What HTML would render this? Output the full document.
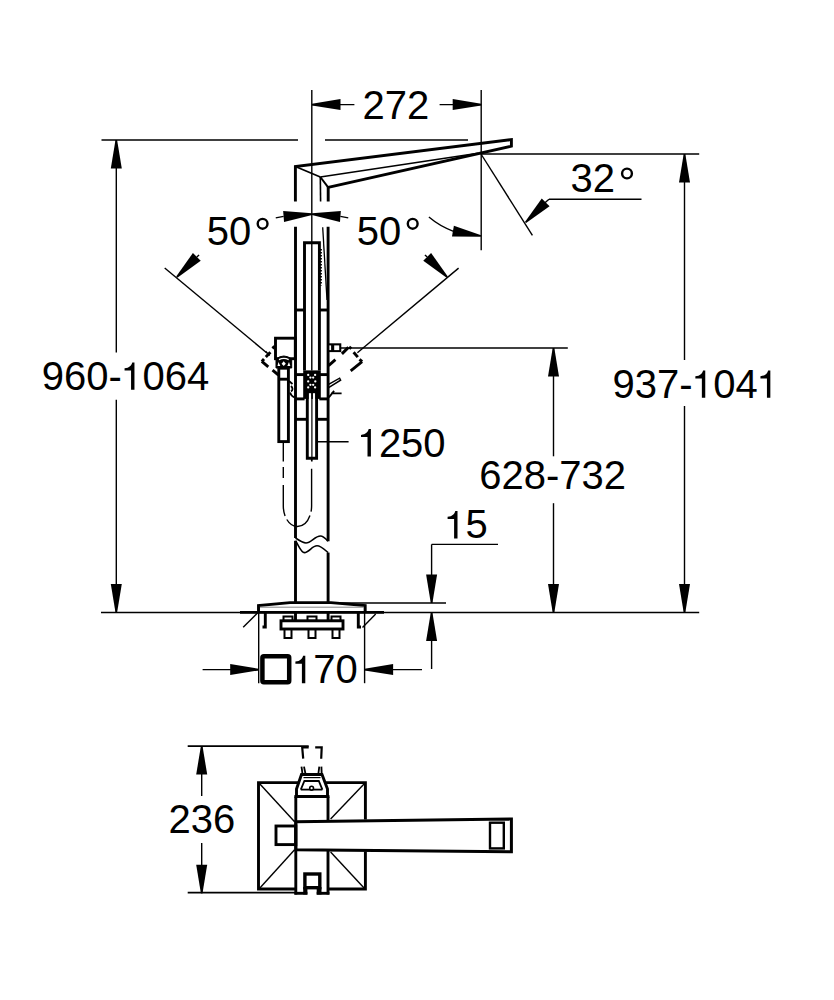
<!DOCTYPE html>
<html><head><meta charset="utf-8"><style>
html,body{margin:0;padding:0;background:#fff;}
svg{display:block;}
text{font-family:"Liberation Sans",sans-serif;fill:#000;stroke:none;}
</style></head><body>
<svg width="834" height="1000" viewBox="0 0 834 1000" stroke="#000" stroke-linecap="butt" stroke-linejoin="miter">
<line x1="311.80" y1="90.00" x2="311.80" y2="242.70" stroke-width="1.4" />
<line x1="481.20" y1="90.00" x2="481.20" y2="250.30" stroke-width="1.4" />
<line x1="312.00" y1="104.60" x2="354.40" y2="104.60" stroke-width="1.4" />
<polygon points="312.00,103.80 340.50,99.10 340.50,110.10 312.00,105.40" fill="#000" stroke="none"/>
<line x1="439.60" y1="104.60" x2="481.20" y2="104.60" stroke-width="1.4" />
<polygon points="481.20,105.40 452.70,110.10 452.70,99.10 481.20,103.80" fill="#000" stroke="none"/>
<text x="362.60" y="118.70" font-size="40">272</text>
<line x1="101.50" y1="140.00" x2="298.00" y2="140.00" stroke-width="1.4" />
<line x1="325.00" y1="140.00" x2="468.00" y2="140.00" stroke-width="1.4" />
<line x1="116.30" y1="140.00" x2="116.30" y2="352.50" stroke-width="1.4" />
<line x1="116.30" y1="399.70" x2="116.30" y2="612.50" stroke-width="1.4" />
<polygon points="117.10,140.00 121.80,168.50 110.80,168.50 115.50,140.00" fill="#000" stroke="none"/>
<polygon points="115.50,612.50 110.80,584.00 121.80,584.00 117.10,612.50" fill="#000" stroke="none"/>
<text x="41.80" y="389.80" font-size="40">960-</text>
<path d="M134.46,389.80 L134.46,362.40 L132.26,362.40 C131.66,365.00 129.36,367.90 124.56,368.20 L124.56,370.40 L131.06,370.40 L131.06,389.80 Z" fill="#000" stroke="none"/>
<text x="142.44" y="389.80" font-size="40">064</text>
<line x1="101.00" y1="612.50" x2="699.20" y2="612.50" stroke-width="1.5" />
<line x1="240.00" y1="612.40" x2="384.00" y2="612.40" stroke-width="2.6" />
<line x1="481.00" y1="154.00" x2="699.20" y2="154.00" stroke-width="1.4" />
<line x1="684.50" y1="154.00" x2="684.50" y2="360.00" stroke-width="1.4" />
<line x1="684.50" y1="406.00" x2="684.50" y2="612.50" stroke-width="1.4" />
<polygon points="685.30,154.00 690.00,182.50 679.00,182.50 683.70,154.00" fill="#000" stroke="none"/>
<polygon points="683.70,612.50 679.00,584.00 690.00,584.00 685.30,612.50" fill="#000" stroke="none"/>
<text x="612.60" y="397.80" font-size="40">937-</text>
<path d="M705.26,397.80 L705.26,370.40 L703.06,370.40 C702.46,373.00 700.16,375.90 695.36,376.20 L695.36,378.40 L701.86,378.40 L701.86,397.80 Z" fill="#000" stroke="none"/>
<text x="713.24" y="397.80" font-size="40">04</text>
<path d="M770.34,397.80 L770.34,370.40 L768.14,370.40 C767.54,373.00 765.24,375.90 760.44,376.20 L760.44,378.40 L766.94,378.40 L766.94,397.80 Z" fill="#000" stroke="none"/>
<line x1="341.00" y1="348.00" x2="567.80" y2="348.00" stroke-width="1.4" />
<line x1="553.50" y1="348.00" x2="553.50" y2="456.30" stroke-width="1.4" />
<line x1="553.50" y1="503.20" x2="553.50" y2="612.50" stroke-width="1.4" />
<polygon points="554.30,348.00 559.00,376.50 548.00,376.50 552.70,348.00" fill="#000" stroke="none"/>
<polygon points="552.70,612.50 548.00,584.00 559.00,584.00 554.30,612.50" fill="#000" stroke="none"/>
<text x="479.20" y="488.90" font-size="40">628-732</text>
<line x1="331.00" y1="603.00" x2="446.00" y2="603.00" stroke-width="1.4" />
<line x1="431.60" y1="544.40" x2="498.00" y2="544.40" stroke-width="1.4" />
<line x1="431.60" y1="544.40" x2="431.60" y2="603.00" stroke-width="1.4" />
<line x1="431.60" y1="612.50" x2="431.60" y2="669.00" stroke-width="1.4" />
<polygon points="430.80,603.00 426.10,574.50 437.10,574.50 432.40,603.00" fill="#000" stroke="none"/>
<polygon points="432.40,612.50 437.10,641.00 426.10,641.00 430.80,612.50" fill="#000" stroke="none"/>
<path d="M457.50,538.40 L457.50,511.00 L455.30,511.00 C454.70,513.60 452.40,516.50 447.60,516.80 L447.60,519.00 L454.10,519.00 L454.10,538.40 Z" fill="#000" stroke="none"/>
<text x="465.49" y="538.40" font-size="40">5</text>
<line x1="258.70" y1="605.00" x2="258.70" y2="683.20" stroke-width="1.4" />
<line x1="364.60" y1="605.00" x2="364.60" y2="683.20" stroke-width="1.4" />
<line x1="202.60" y1="669.60" x2="258.70" y2="669.60" stroke-width="1.4" />
<polygon points="258.70,670.40 230.20,675.10 230.20,664.10 258.70,668.80" fill="#000" stroke="none"/>
<line x1="364.60" y1="669.60" x2="422.00" y2="669.60" stroke-width="1.4" />
<polygon points="364.60,668.80 393.10,664.10 393.10,675.10 364.60,670.40" fill="#000" stroke="none"/>
<rect x="262.4" y="656.3" width="26.8" height="26" rx="1.5" stroke-width="4.5" fill="none"/>
<path d="M305.30,683.20 L305.30,655.80 L303.10,655.80 C302.50,658.40 300.20,661.30 295.40,661.60 L295.40,663.80 L301.90,663.80 L301.90,683.20 Z" fill="#000" stroke="none"/>
<text x="313.29" y="683.20" font-size="40">70</text>
<line x1="481.00" y1="154.00" x2="532.40" y2="235.40" stroke-width="1.4" />
<line x1="549.00" y1="199.20" x2="641.50" y2="199.20" stroke-width="1.4" />
<line x1="549.00" y1="199.20" x2="540.00" y2="207.00" stroke-width="1.4" />
<polygon points="524.93,221.93 541.76,198.46 549.54,206.24 526.07,223.07" fill="#000" stroke="none"/>
<text x="570.50" y="192.30" font-size="40">32</text>
<circle cx="627" cy="173.5" r="4.9" stroke-width="2.4" fill="none"/>
<path d="M428.9,217 A82,82 0 0 0 453.5,231.3" stroke-width="1.4" fill="none" />
<polygon points="480.86,236.79 451.98,236.49 453.88,225.65 481.14,235.21" fill="#000" stroke="none"/>
<line x1="164.70" y1="268.00" x2="266.90" y2="353.00" stroke-width="1.4" />
<line x1="458.60" y1="268.10" x2="357.40" y2="352.70" stroke-width="1.4" />
<polygon points="312.06,214.90 284.04,221.88 283.15,210.92 311.94,213.30" fill="#000" stroke="none"/>
<path d="M283.62,216.40 A176.5,176.5 0 0 0 275.76,217.86" stroke-width="1.4" fill="none" />
<polygon points="312.06,213.30 340.85,210.92 339.96,221.88 311.94,214.90" fill="#000" stroke="none"/>
<path d="M340.38,216.40 A176.5,176.5 0 0 1 348.24,217.86" stroke-width="1.4" fill="none" />
<polygon points="176.22,276.59 192.90,253.00 200.73,260.73 177.36,277.71" fill="#000" stroke="none"/>
<path d="M196.79,256.89 A176.5,176.5 0 0 1 199.08,254.95" stroke-width="1.4" fill="none" />
<polygon points="446.64,277.71 423.27,260.73 431.10,253.00 447.78,276.59" fill="#000" stroke="none"/>
<path d="M427.21,256.89 A176.5,176.5 0 0 0 424.92,254.95" stroke-width="1.4" fill="none" />
<text x="206.70" y="245.00" font-size="40">50</text>
<circle cx="262.6" cy="223.8" r="4.9" stroke-width="2.4" fill="none"/>
<text x="356.70" y="245.00" font-size="40">50</text>
<circle cx="412.7" cy="223.8" r="4.9" stroke-width="2.4" fill="none"/>
<polyline points="295.40,201.40 295.40,166.50 511.40,139.60 511.40,146.20 328.20,187.40 328.20,201.40" stroke-width="2.9" fill="none"/>
<line x1="295.40" y1="166.50" x2="320.30" y2="177.00" stroke-width="1.8" />
<line x1="320.30" y1="177.00" x2="328.20" y2="187.40" stroke-width="2" />
<line x1="320.30" y1="177.00" x2="478.00" y2="153.20" stroke-width="1.6" />
<line x1="320.30" y1="177.00" x2="320.60" y2="201.40" stroke-width="1.6" />
<line x1="295.50" y1="226.70" x2="295.50" y2="538.00" stroke-width="2.9" />
<line x1="295.50" y1="540.80" x2="295.50" y2="602.20" stroke-width="2.9" />
<line x1="328.10" y1="226.70" x2="328.10" y2="541.20" stroke-width="2.9" />
<line x1="328.10" y1="552.60" x2="328.10" y2="602.20" stroke-width="2.9" />
<line x1="322.70" y1="227.20" x2="327.00" y2="300.00" stroke-width="1.3" />
<polyline points="304.50,370.60 304.50,242.70 319.40,242.70 319.40,370.60" stroke-width="2.9" fill="none"/>
<line x1="311.80" y1="242.70" x2="311.80" y2="370.60" stroke-width="1.4" />
<line x1="320.90" y1="249.00" x2="320.90" y2="285.50" stroke-width="2.0" stroke-dasharray="1.6,1.4"/>
<rect x="303.20" y="370.40" width="17.60" height="28.50" stroke-width="0.01" fill="#000"/>
<circle cx="308.2" cy="374.9" r="1.15" fill="#fff" stroke="none"/>
<circle cx="315.1" cy="374.9" r="1.15" fill="#fff" stroke="none"/>
<circle cx="310.4" cy="377.6" r="1.15" fill="#fff" stroke="none"/>
<circle cx="313.2" cy="377.6" r="1.15" fill="#fff" stroke="none"/>
<circle cx="308.2" cy="381.4" r="1.15" fill="#fff" stroke="none"/>
<circle cx="315.3" cy="381.4" r="1.15" fill="#fff" stroke="none"/>
<circle cx="310.4" cy="384.8" r="1.15" fill="#fff" stroke="none"/>
<circle cx="313.2" cy="384.8" r="1.15" fill="#fff" stroke="none"/>
<circle cx="308.2" cy="387.4" r="1.15" fill="#fff" stroke="none"/>
<circle cx="315.1" cy="387.4" r="1.15" fill="#fff" stroke="none"/>
<rect x="308.7" y="393.2" width="2.6" height="6" fill="#fff" stroke="none"/>
<rect x="312.9" y="393.2" width="2.4" height="6" fill="#fff" stroke="none"/>
<line x1="296.00" y1="310.00" x2="304.40" y2="310.00" stroke-width="2.9" />
<line x1="319.30" y1="310.00" x2="328.00" y2="310.00" stroke-width="2.9" />
<line x1="296.00" y1="374.60" x2="304.60" y2="374.60" stroke-width="2.9" />
<line x1="319.30" y1="374.60" x2="328.00" y2="374.60" stroke-width="2.9" />
<line x1="296.00" y1="398.90" x2="304.60" y2="398.90" stroke-width="2.9" />
<line x1="319.30" y1="398.90" x2="328.00" y2="398.90" stroke-width="2.9" />
<line x1="296.00" y1="419.30" x2="307.30" y2="419.30" stroke-width="2.9" />
<line x1="316.60" y1="419.30" x2="328.00" y2="419.30" stroke-width="2.9" />
<polyline points="307.30,393.00 307.30,458.30 316.60,458.30 316.60,393.00" stroke-width="2.9" fill="none"/>
<line x1="311.90" y1="393.00" x2="311.90" y2="461.60" stroke-width="1.2" />
<line x1="316.40" y1="441.80" x2="348.60" y2="441.80" stroke-width="1.4" />
<path d="M370.90,456.50 L370.90,429.10 L368.70,429.10 C368.10,431.70 365.80,434.60 361.00,434.90 L361.00,437.10 L367.50,437.10 L367.50,456.50 Z" fill="#000" stroke="none"/>
<text x="378.89" y="456.50" font-size="40">250</text>
<rect x="275.50" y="338.20" width="19.80" height="20.50" stroke-width="2.9" fill="none"/>
<path d="M276,368 L276,359 Q283.8,353 291.7,359 L291.7,368 Z" stroke-width="1" fill="#000" />
<path d="M279,359.6 Q283.8,357 288.7,359.6" stroke-width="1.2" fill="none" stroke="#fff"/>
<polygon points="283.7,361.3 285.8,363.7 283.7,366.1 281.6,363.7" fill="#fff" stroke="none"/>
<polygon points="278.5,362 280.3,366 277.5,366" fill="#fff" stroke="none"/>
<polygon points="289,362 290.3,366 287.3,366" fill="#fff" stroke="none"/>
<rect x="278.80" y="368.20" width="9.60" height="73.40" stroke-width="2.9" fill="none"/>
<line x1="278.80" y1="379.20" x2="288.40" y2="379.20" stroke-width="2.9" />
<path d="M289,381 L292.5,384 M291,386 Q294,389 291,391.5 M290,392.5 Q291,396 294.5,397.5" stroke-width="1.8" fill="none" />
<rect x="328" y="343.3" width="13.3" height="8.8" fill="#000" stroke="none"/>
<rect x="329.4" y="345.4" width="1.7" height="4.7" fill="#fff" stroke="none"/>
<rect x="334.2" y="345.4" width="5" height="4.7" fill="#fff" stroke="none"/>
<line x1="328.60" y1="365.60" x2="335.40" y2="359.70" stroke-width="2.9" />
<polyline points="328.60,384.40 339.60,378.20 340.60,380.20 328.60,387.70" stroke-width="1.5" fill="none"/>
<path d="M328.9,397.4 L334.1,390.9 M331,393.3 L341.6,393.3" stroke-width="1.8" fill="none" />
<line x1="261.80" y1="361.40" x2="264.00" y2="359.10" stroke-width="2.9" />
<line x1="265.80" y1="357.00" x2="270.40" y2="352.30" stroke-width="2.9" />
<line x1="272.40" y1="348.30" x2="274.60" y2="346.40" stroke-width="2.9" />
<line x1="261.80" y1="361.40" x2="268.30" y2="366.80" stroke-width="2.9" />
<line x1="272.50" y1="370.20" x2="278.50" y2="375.00" stroke-width="2.9" />
<line x1="265.60" y1="351.20" x2="269.60" y2="355.60" stroke-width="1.4" />
<line x1="341.90" y1="353.90" x2="348.40" y2="347.40" stroke-width="2.9" />
<line x1="349.10" y1="347.00" x2="351.30" y2="348.70" stroke-width="2.9" />
<line x1="353.60" y1="352.20" x2="357.80" y2="357.10" stroke-width="2.9" />
<line x1="359.50" y1="359.40" x2="362.10" y2="361.70" stroke-width="2.9" />
<line x1="362.10" y1="361.70" x2="350.70" y2="370.80" stroke-width="2.9" />
<path d="M283.3,441.6 L283.3,506 A14.15,20.5 0 0 0 311.6,506 L311.6,458.3" stroke-width="1.4" fill="none" stroke-dasharray="19.9,5.5,11,7,31,4,30.9,4,42.8,7.6,3.3"/>
<path d="M295.5,538 C300,541 303,543 306,543 C311,543 315,536 320.4,536 C323,536 326,539 328.1,541.2" stroke-width="1.6" fill="none" />
<path d="M295.5,540.8 C299,546 301,552.6 304.4,552.6 C309,552.6 312,545.8 317,545.8 C321,545.8 325,550 328.1,552.6" stroke-width="1.6" fill="none" />
<polyline points="258.50,612.00 258.50,605.50 290.00,602.60 331.00,602.60 365.20,605.50 365.20,612.00" stroke-width="2.9" fill="none"/>
<line x1="260.00" y1="607.20" x2="364.00" y2="607.20" stroke-width="0.9" stroke="#777"/>
<line x1="243.20" y1="627.20" x2="258.50" y2="612.00" stroke-width="1.4" />
<line x1="362.50" y1="627.40" x2="375.70" y2="614.00" stroke-width="1.4" />
<polyline points="265.30,612.00 265.30,627.00 262.50,627.00" stroke-width="2.9" fill="none"/>
<polyline points="358.30,612.00 358.30,627.00 361.00,627.00" stroke-width="2.9" fill="none"/>
<line x1="295.50" y1="612.00" x2="295.50" y2="620.50" stroke-width="2.9" />
<line x1="328.10" y1="612.00" x2="328.10" y2="620.50" stroke-width="2.9" />
<rect x="281.00" y="620.80" width="62.00" height="8.20" stroke-width="2.9" fill="none"/>
<rect x="283.50" y="616.50" width="9.00" height="4.30" stroke-width="2" fill="none"/>
<rect x="284.50" y="629.00" width="7.00" height="9.00" stroke-width="2" fill="none"/>
<rect x="307.50" y="616.50" width="9.00" height="4.30" stroke-width="2" fill="none"/>
<rect x="308.50" y="629.00" width="7.00" height="9.00" stroke-width="2" fill="none"/>
<rect x="331.50" y="616.50" width="9.00" height="4.30" stroke-width="2" fill="none"/>
<rect x="332.50" y="629.00" width="7.00" height="9.00" stroke-width="2" fill="none"/>
<line x1="187.70" y1="746.10" x2="308.70" y2="746.10" stroke-width="1.6" />
<polyline points="303.20,758.70 302.20,747.30 308.70,747.30" stroke-width="2.2" fill="none"/>
<polyline points="315.20,747.30 321.70,747.30 321.20,758.70" stroke-width="2.2" fill="none"/>
<line x1="187.70" y1="892.60" x2="296.00" y2="892.60" stroke-width="1.6" />
<line x1="201.70" y1="746.00" x2="201.70" y2="796.00" stroke-width="1.4" />
<line x1="201.70" y1="843.00" x2="201.70" y2="893.30" stroke-width="1.4" />
<polygon points="202.50,746.00 207.20,774.50 196.20,774.50 200.90,746.00" fill="#000" stroke="none"/>
<polygon points="200.90,893.30 196.20,864.80 207.20,864.80 202.50,893.30" fill="#000" stroke="none"/>
<text x="168.60" y="833.40" font-size="40">236</text>
<polyline points="298.00,782.60 258.50,782.60 258.50,889.00 296.00,889.00" stroke-width="2.9" fill="none"/>
<polyline points="328.00,889.00 365.40,889.00 365.40,851.50" stroke-width="2.9" fill="none"/>
<polyline points="365.40,819.50 365.40,782.60 325.50,782.60" stroke-width="2.9" fill="none"/>
<line x1="259.00" y1="783.00" x2="294.60" y2="821.80" stroke-width="1.4" />
<line x1="365.00" y1="783.00" x2="330.60" y2="818.90" stroke-width="1.4" />
<line x1="259.00" y1="889.00" x2="294.60" y2="849.80" stroke-width="1.4" />
<line x1="365.00" y1="889.00" x2="330.60" y2="852.00" stroke-width="1.4" />
<line x1="295.80" y1="796.50" x2="295.80" y2="894.50" stroke-width="2.9" />
<line x1="328.00" y1="796.50" x2="328.00" y2="821.50" stroke-width="2.9" />
<line x1="328.00" y1="850.00" x2="328.00" y2="894.50" stroke-width="2.9" />
<line x1="294.40" y1="796.50" x2="329.40" y2="796.50" stroke-width="2.9" />
<line x1="294.40" y1="893.30" x2="307.40" y2="893.30" stroke-width="2.9" />
<line x1="316.70" y1="893.30" x2="329.40" y2="893.30" stroke-width="2.9" />
<rect x="276.00" y="826.00" width="19.80" height="18.60" stroke-width="2.9" fill="none"/>
<polygon points="295.80,821.80 511.40,819.00 511.40,851.70 295.80,849.80" stroke-width="3.0" fill="none"/>
<rect x="490.00" y="822.70" width="13.80" height="25.70" stroke-width="2.4" fill="none"/>
<rect x="304.90" y="874.00" width="14.90" height="13.70" stroke-width="3.4" fill="none"/>
<rect x="303.2" y="887" width="4.2" height="7.5" fill="#000" stroke="none"/>
<rect x="316.7" y="887" width="4.8" height="7.5" fill="#000" stroke="none"/>
<polyline points="296.50,797.00 296.50,789.00 301.50,774.50 322.00,774.50 327.50,789.00 327.50,797.00" stroke-width="2.9" fill="none"/>
<polyline points="300.80,789.60 304.40,781.00 318.80,781.00 322.40,789.60" stroke-width="1.8" fill="none"/>
<line x1="300.80" y1="789.60" x2="322.40" y2="789.60" stroke-width="1.8" />
<line x1="303.50" y1="777.60" x2="320.50" y2="777.60" stroke-width="1.2" />
<circle cx="311.6" cy="788.2" r="1.9" stroke-width="1.6" fill="#fff"/>
<line x1="301.50" y1="766.60" x2="302.50" y2="774.00" stroke-width="1.8" />
<line x1="304.00" y1="766.60" x2="305.50" y2="774.00" stroke-width="1.8" />
<line x1="319.30" y1="766.60" x2="318.30" y2="774.00" stroke-width="1.8" />
<line x1="321.40" y1="766.60" x2="321.70" y2="774.00" stroke-width="1.8" />
</svg></body></html>
